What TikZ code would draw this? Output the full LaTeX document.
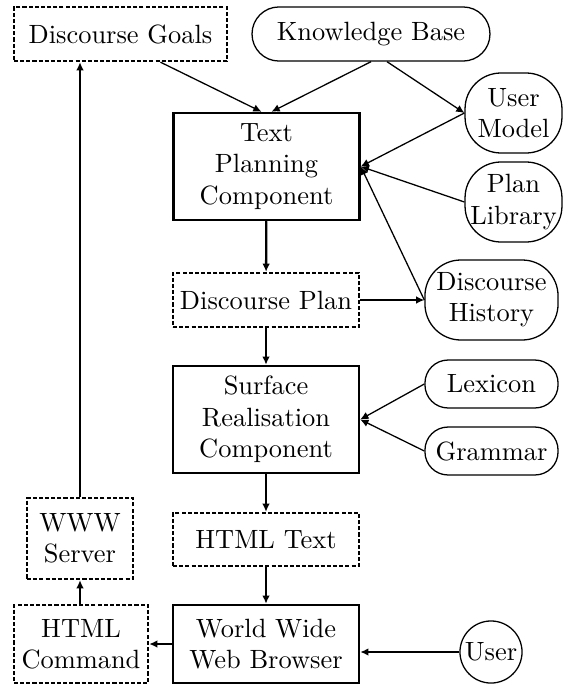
\documentclass[tikz,border=0pt]{standalone}
\usepackage{tikz}
\usetikzlibrary{arrows.meta,calc,positioning}
\tikzset{
  module/.style={draw,line width=1pt,minimum width=72.5pt,align=center,inner sep=1pt},
  datafile/.style={draw,line width=0.9pt,dash pattern=on 1.6pt off 0.8pt,align=center,inner sep=1pt},
  store/.style={draw,line width=0.5pt,rounded corners=#1,align=center,inner sep=1pt},
  store/.default=9pt,
  flow/.style={-{Latex[length=3.2pt,width=3pt]},line width=0.9pt},
  feed/.style={-{Latex[length=3.2pt,width=3pt]},line width=0.5pt}
}

\begin{document}
\begin{tikzpicture}[x=0.39pt,y=-0.39pt,font=\fontsize{10.3}{12.2}\selectfont]
  \useasboundingbox (0,0) rectangle (564,686);
  % planning side
  \node[datafile,minimum width=83.1pt,minimum height=21.1pt] (goals) at (120.5,34) {Discourse Goals};
  \node[store=10.5pt,minimum width=92.8pt,minimum height=21.1pt] (kbase) at (371,34) {Knowledge Base};
  \node[module,minimum height=41.7pt] (textplan) at (266.5,166.5) {Text\\Planning\\Component};
  \node[store=14pt,minimum width=37.8pt,minimum height=31.2pt] (usermodel) at (513.5,113) {User\\Model};
  \node[store=14pt,minimum width=37.8pt,minimum height=31.2pt] (planlib) at (513.5,202) {Plan\\Library};
  \node[datafile,minimum width=72.5pt,minimum height=21.1pt] (dplan) at (266,300) {Discourse Plan};
  \node[store=14pt,minimum width=51.9pt,minimum height=31.2pt] (dhist) at (491.5,300) {Discourse\\History};
  % realisation side
  \node[store,minimum width=51.9pt,minimum height=18.7pt] (lexicon) at (491.5,384) {Lexicon};
  \node[store,minimum width=51.9pt,minimum height=18.7pt] (grammar) at (491.5,451) {Grammar};
  \node[module,minimum height=41.7pt] (surface) at (266,419.5) {Surface\\Realisation\\Component};
  \node[datafile,minimum width=72.5pt,minimum height=20.7pt] (htmltext) at (266,539.5) {HTML Text};
  \node[module,minimum height=30.4pt] (browser) at (266,644) {World Wide\\Web Browser};
  \node[datafile,minimum width=52.3pt,minimum height=30.4pt] (htmlcmd) at (81,644) {HTML\\Command};
  \node[datafile,minimum width=41.3pt,minimum height=31.6pt] (server) at (80,538.5) {WWW\\Server};
  \node[circle,draw,line width=0.5pt,minimum size=24.2pt,inner sep=0pt] (user) at (491,652) {User};

  \draw[feed] ($(goals.south)+(40,0)$) -- ($(textplan.north)+(-5,0)$);
  \draw[feed] (kbase.south) -- ($(textplan.north)+(5,0)$);
  \draw[feed] ($(kbase.south)+(16,0)$) -- (usermodel.west);
  \draw[feed] (usermodel.west) -- (textplan.east);
  \draw[feed] (planlib.west) -- (textplan.east);
  \draw[feed] (dhist.west) -- (textplan.east);
  \draw[flow] (textplan) -- (dplan);
  \draw[flow] (dplan) -- (dhist);
  \draw[flow] (dplan) -- (surface);
  \draw[feed] (lexicon.west) -- (surface.east);
  \draw[feed] (grammar.west) -- (surface.east);
  \draw[flow] (surface) -- (htmltext);
  \draw[flow] (htmltext) -- (browser);
  \draw[flow] (user.west) -- (user.west -| browser.east);
  \draw[flow] (browser) -- (htmlcmd);
  \draw[flow] (htmlcmd.north -| server.south) -- (server.south);
  \draw[flow] (server.north) -- (server.north |- goals.south);
\end{tikzpicture}
\end{document}
